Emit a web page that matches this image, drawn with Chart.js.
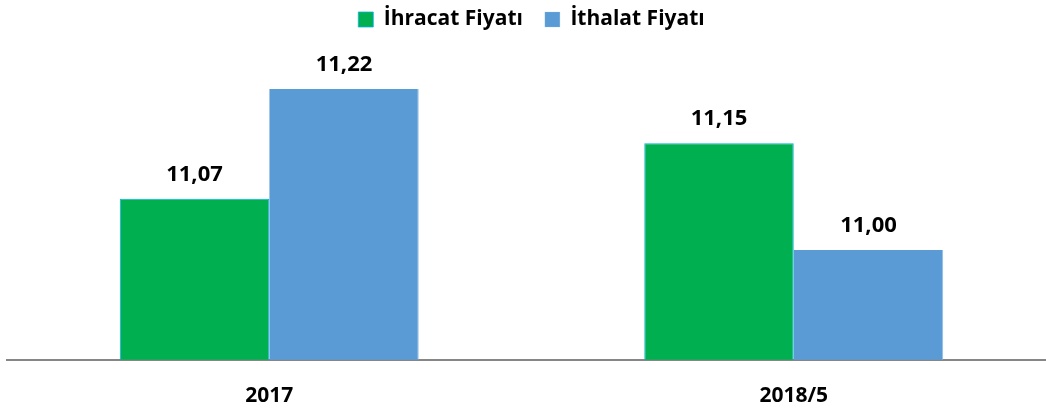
<!DOCTYPE html>
<html>
<head>
<meta charset="utf-8">
<script src="https://cdn.jsdelivr.net/npm/chart.js@4/dist/chart.umd.min.js"></script>
<style>
  html, body { margin: 0; padding: 0; background: #fff; overflow: hidden; }
  #wrap { width: 1056px; height: 410px; position: relative; }
</style>
</head>
<body>
<div id="wrap"><canvas id="c"></canvas></div>
<script>
const categories = ['2017', '2018/5'];
const seriesNames = ['İhracat Fiyatı', 'İthalat Fiyatı'];
const ihracat = [11.07, 11.146];
const ithalat = [11.22, 11.00];

const FONT = '"Open Sans", "Liberation Sans", sans-serif';

const valueLabels = {
  id: 'valueLabels',
  afterDatasetsDraw(chart) {
    const ctx = chart.ctx;
    ctx.save();
    ctx.font = 'bold 22px ' + FONT;
    ctx.fillStyle = '#000';
    ctx.textAlign = 'center';
    ctx.textBaseline = 'alphabetic';
    chart.data.datasets.forEach((ds, i) => {
      const meta = chart.getDatasetMeta(i);
      meta.data.forEach((el, j) => {
        const v = ds.data[j];
        ctx.fillText(v.toFixed(2).replace('.', ','), el.x, el.y - 18);
      });
    });
    ctx.restore();
  }
};

const legendSpace = {
  id: 'legendSpace',
  beforeInit(chart) {
    const origFit = chart.legend.fit;
    chart.legend.fit = function () {
      origFit.bind(chart.legend)();
      this.height = 80;
    };
  }
};

new Chart(document.getElementById('c'), {
  type: 'bar',
  data: {
    labels: categories,
    datasets: [
      {
        label: seriesNames[0],
        data: ihracat,
        backgroundColor: '#00B050',
        borderColor: '#00B0F0',
        borderWidth: { top: 1, left: 1, right: 1, bottom: 0 },
        borderSkipped: 'bottom'
      },
      {
        label: seriesNames[1],
        data: ithalat,
        backgroundColor: '#5B9BD5',
        borderColor: '#8DBBE6',
        borderWidth: { top: 0, left: 0, right: 1, bottom: 0 },
        borderSkipped: 'bottom'
      }
    ]
  },
  options: {
    responsive: true,
    maintainAspectRatio: false,
    animation: false,
    layout: { padding: { left: 7, right: 0, top: -13, bottom: -23 } },
    datasets: { bar: { barPercentage: 1, categoryPercentage: 0.57 } },
    plugins: {
      legend: {
        display: true,
        position: 'top',
        labels: {
          boxWidth: 15,
          boxHeight: 15,
          color: '#000',
          font: { family: FONT, size: 21, weight: 'bold' },
          padding: 22
        }
      },
      tooltip: { enabled: false }
    },
    scales: {
      x: {
        grid: { display: false, drawTicks: false },
        border: { display: true, color: '#868686', width: 2 },
        ticks: {
          color: '#000',
          padding: 24,
          font: { family: FONT, size: 21, weight: 'bold' }
        }
      },
      y: {
        display: false,
        min: 10.85,
        max: 11.25
      }
    }
  },
  plugins: [valueLabels, legendSpace]
});
</script>
</body>
</html>
